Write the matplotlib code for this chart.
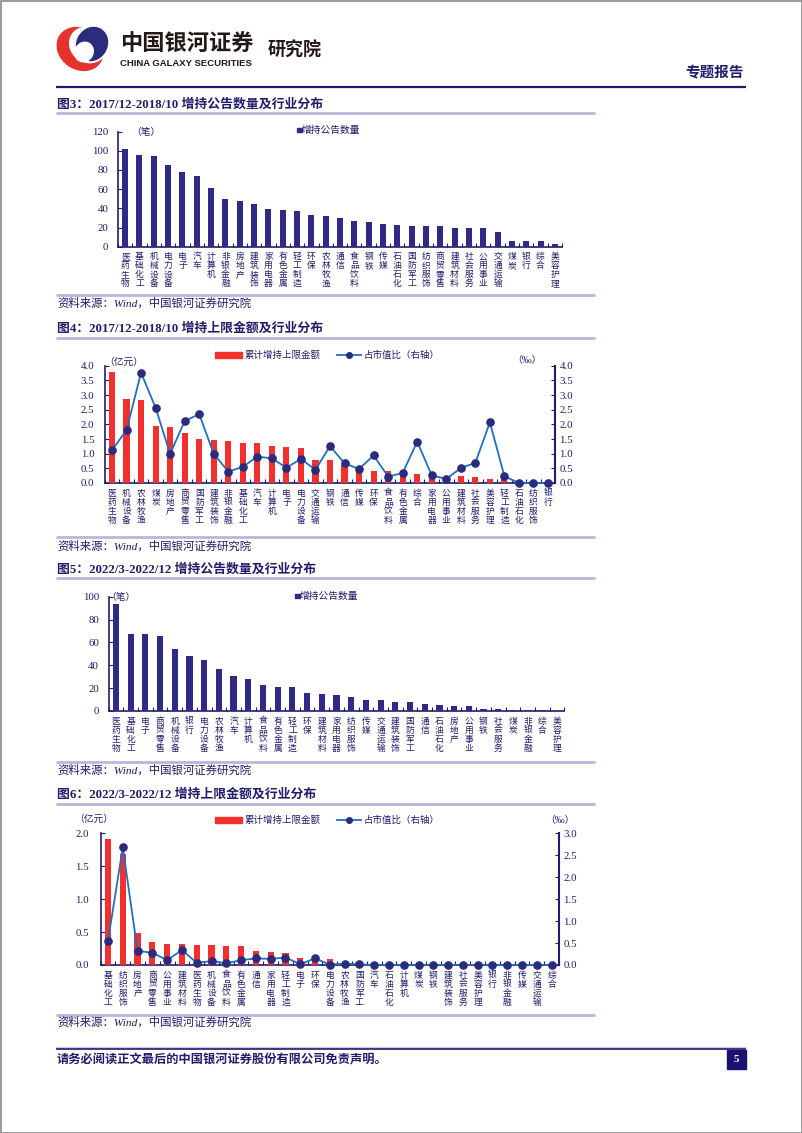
import matplotlib
matplotlib.use('Agg')
import matplotlib.pyplot as plt
from matplotlib.patches import Rectangle, Ellipse
import numpy as np

# ---------------- data ----------------
fig3_categories = ['医药生物', '基础化工', '机械设备', '电力设备', '电子', '汽车', '计算机', '非银金融',
                   '房地产', '建筑装饰', '家用电器', '有色金属', '轻工制造', '环保', '农林牧渔', '通信',
                   '食品饮料', '钢铁', '传媒', '石油石化', '国防军工', '纺织服饰', '商贸零售', '建筑材料',
                   '社会服务', '公用事业', '交通运输', '煤炭', '银行', '综合', '美容护理']
fig3_counts = [102, 96, 94, 85, 78, 74, 61, 50, 48, 44, 39, 38, 37, 33, 32, 30, 27, 26, 24, 23,
               22, 22, 22, 20, 19, 19, 15, 6, 6, 6, 3]
fig3_yticks = [0, 20, 40, 60, 80, 100, 120]

fig4_categories = ['医药生物', '机械设备', '农林牧渔', '煤炭', '房地产', '商贸零售', '国防军工', '建筑装饰',
                   '非银金融', '基础化工', '汽车', '计算机', '电子', '电力设备', '交通运输', '钢铁', '通信',
                   '传媒', '环保', '食品饮料', '有色金属', '综合', '家用电器', '公用事业', '建筑材料',
                   '社会服务', '美容护理', '轻工制造', '石油石化', '纺织服饰', '银行']
fig4_amount = [3.78, 2.87, 2.84, 1.94, 1.90, 1.69, 1.50, 1.47, 1.44, 1.37, 1.36, 1.26, 1.24, 1.20,
               0.78, 0.78, 0.62, 0.50, 0.42, 0.41, 0.34, 0.30, 0.26, 0.20, 0.25, 0.19, 0.15, 0.20,
               0.0, 0.0, 0.0]
fig4_ratio = [1.12, 1.80, 3.76, 2.57, 0.99, 2.11, 2.35, 1.00, 0.39, 0.55, 0.90, 0.84, 0.52, 0.82,
              0.45, 1.26, 0.67, 0.48, 0.94, 0.22, 0.34, 1.41, 0.26, 0.14, 0.51, 0.69, 2.07, 0.23,
              0.0, 0.0, 0.0]
fig4_yticks = [0.0, 0.5, 1.0, 1.5, 2.0, 2.5, 3.0, 3.5, 4.0]

fig5_categories = ['医药生物', '基础化工', '电子', '商贸零售', '机械设备', '银行', '电力设备', '农林牧渔',
                   '汽车', '计算机', '食品饮料', '有色金属', '轻工制造', '环保', '建筑材料', '家用电器',
                   '纺织服饰', '传媒', '交通运输', '建筑装饰', '国防军工', '通信', '石油石化', '房地产',
                   '公用事业', '钢铁', '社会服务', '煤炭', '非银金融', '综合', '美容护理']
fig5_counts = [94, 67, 67, 66, 54, 48, 45, 37, 31, 28, 23, 21, 21, 16, 15, 14, 12, 10, 10, 8, 8,
               6, 5, 4, 4, 2, 2, 1, 1, 1, 0]
fig5_yticks = [0, 20, 40, 60, 80, 100]

fig6_categories = ['基础化工', '纺织服饰', '房地产', '商贸零售', '公用事业', '建筑材料', '医药生物', '机械设备',
                   '食品饮料', '有色金属', '通信', '家用电器', '轻工制造', '电子', '环保', '电力设备',
                   '农林牧渔', '国防军工', '汽车', '石油石化', '计算机', '煤炭', '钢铁', '建筑装饰',
                   '社会服务', '美容护理', '银行', '非银金融', '传媒', '交通运输', '综合']
fig6_amount = [1.91, 1.68, 0.48, 0.355, 0.32, 0.32, 0.31, 0.30, 0.29, 0.29, 0.22, 0.20, 0.18, 0.10,
               0.10, 0.09, 0.02, 0.01, 0.005, 0.005, 0.005, 0.0, 0.0, 0.0, 0.0, 0.0, 0.0, 0.0, 0.0,
               0.0, 0.0]
fig6_ratio = [0.55, 2.68, 0.32, 0.28, 0.11, 0.34, 0.05, 0.09, 0.04, 0.11, 0.15, 0.14, 0.17, 0.02,
              0.15, 0.01, 0.03, 0.015, 0.0, 0.0, 0.0, 0.0, 0.0, 0.0, 0.0, 0.0, 0.0, 0.0, 0.0, 0.0, 0.0]
fig6_yticks_left = [0.0, 0.5, 1.0, 1.5, 2.0]
fig6_yticks_right = [0.0, 0.5, 1.0, 1.5, 2.0, 2.5, 3.0]

# ---------------- style ----------------
W, H = 802, 1133
NAVY = '#221C6C'
BAR = '#2E2A86'
RED = '#F2302E'
LINE = '#2070BE'
MARK = '#2B2A7C'
SEP = '#BAB6DA'
SERIF = ['Liberation Serif', 'Noto Sans CJK SC']
CJK = ['Noto Sans CJK SC', 'DejaVu Sans']

fig = plt.figure(figsize=(W / 100, H / 100), dpi=100)

bg = fig.add_axes([0, 0, 1, 1])
bg.set_xlim(0, W)
bg.set_ylim(H, 0)
bg.axis('off')
bg.set_zorder(-5)


def add_axes(x0, y0, x1, y1):
    return fig.add_axes([x0 / W, 1 - y1 / H, (x1 - x0) / W, (y1 - y0) / H])


def hline(x0, x1, y, color, lw):
    bg.plot([x0, x1], [y, y], color=color, lw=lw, solid_capstyle='butt')


def txt(x, y, s, **kw):
    kw.setdefault('va', 'center')
    bg.text(x, y, s, **kw)


# page border
bg.add_patch(Rectangle((0.5, 0.5), W - 1, H - 1, fill=False, ec='#8a8a8a', lw=1.2))

# header logo (approximation)
bg.add_patch(Ellipse((80, 49), 48, 40, angle=35, color='#E5322D'))
bg.add_patch(Ellipse((88, 45), 38, 34, angle=35, color='white'))
bg.add_patch(Ellipse((92, 44), 30, 34, angle=30, color='#2A2C7C'))
bg.add_patch(Ellipse((84, 52), 18, 20, angle=30, color='white'))
txt(120, 44, '中国银河证券', family=CJK, fontsize=16, fontweight='bold', color='#231815')
txt(120, 63.5, 'CHINA GALAXY SECURITIES', family=['Liberation Sans'], fontsize=6.8,
    fontweight='bold', color='#231815')
txt(268, 50, '研究院', family=CJK, fontsize=13, fontweight='bold', color='#231815')
txt(744, 72, '专题报告', family=CJK, fontsize=10.5, fontweight='bold', color=NAVY, ha='right')
hline(56, 746, 86.5, NAVY, 1.6)

# section decorations
sections = [
    (104, 113, 295, 303, '图3：2017/12-2018/10 增持公告数量及行业分布'),
    (329, 338, 537, 546, '图4：2017/12-2018/10 增持上限金额及行业分布'),
    (569, 578, 762, 770, '图5：2022/3-2022/12 增持公告数量及行业分布'),
    (795, 804, 1015, 1022, '图6：2022/3-2022/12 增持上限金额及行业分布'),
]
for ty, uy, by, sy, title in sections:
    txt(57, ty, title, family=SERIF, fontsize=9.3, fontweight='bold', color=NAVY)
    hline(56, 595, uy, SEP, 2.0)
    hline(56, 595, by, SEP, 2.0)
    txt(57, sy, '资料来源：Wind，中国银河证券研究院', family=SERIF, fontsize=8.2,
        fontstyle='italic', color=NAVY)

# footer
hline(56, 746, 1047.5, '#C8C4E6', 1.5)
hline(56, 746, 1049, NAVY, 1.2)
txt(57, 1060, '请务必阅读正文最后的中国银河证券股份有限公司免责声明。', family=CJK, fontsize=8.8,
    fontweight='bold', color=NAVY)
bg.add_patch(Rectangle((727, 1050), 19, 19, color='#1A1270'))
txt(736.5, 1059.5, '5', family=SERIF, fontsize=8, fontweight='bold', color='white', ha='center')


def style(ax, cats, ylim, yticks, fmt, pad):
    n = len(cats)
    ax.set_xlim(-0.5, n - 0.5)
    ax.set_ylim(*ylim)
    ax.set_yticks(yticks)
    ax.set_yticklabels([fmt.format(v) for v in yticks], family=SERIF, fontsize=7.8, color=NAVY)
    ax.set_xticks(range(n))
    ax.set_xticklabels(['\n'.join(c) for c in cats], family=CJK, fontsize=6.3, color=NAVY,
                       linespacing=1.0, va='top')
    ax.set_xticks(np.arange(n + 1) - 0.5, minor=True)
    ax.tick_params(axis='x', which='major', length=0, pad=4)
    ax.tick_params(axis='x', which='minor', length=3, direction='in', color=NAVY, width=0.8)
    ax.tick_params(axis='y', length=3, direction='in', color=NAVY, width=0.8, pad=pad)
    for s in ['top', 'right']:
        ax.spines[s].set_visible(False)
    for s in ['left', 'bottom']:
        ax.spines[s].set_color(NAVY)
        ax.spines[s].set_linewidth(1.2)
    ax.patch.set_alpha(0)


def count_chart(box, cats, vals, yticks, legend_xy, unit_xy, pad):
    ax = add_axes(*box)
    x = np.arange(len(cats))
    ax.bar(x, vals, width=0.42, color=BAR, zorder=3)
    style(ax, cats, (0, yticks[-1]), yticks, '{:d}', pad)
    lx, ly = legend_xy
    bg.add_patch(Rectangle((lx, ly - 2.5), 4.5, 4.5, color=BAR))
    txt(lx + 5, ly, '增持公告数量', family=CJK, fontsize=7, color=NAVY)
    txt(unit_xy[0], unit_xy[1], '（笔）', family=CJK, fontsize=7, color=NAVY)
    return ax


def amount_chart(box, cats, amt, ratio, lticks, rticks, legend_y, unit_l, unit_r, pad):
    ax = add_axes(*box)
    x = np.arange(len(cats))
    ax.bar(x, amt, width=0.42, color=RED, zorder=3)
    style(ax, cats, (0, lticks[-1]), lticks, '{:.1f}', pad)
    ax2 = ax.twinx()
    ax2.plot(x, ratio, color=LINE, lw=1.3, marker='o', ms=5.2, mfc=MARK, mec=MARK,
             clip_on=False, zorder=4)
    ax2.set_ylim(0, rticks[-1])
    ax2.set_yticks(rticks)
    ax2.set_yticklabels(['{:.1f}'.format(v) for v in rticks], family=SERIF, fontsize=7.8, color=NAVY)
    ax2.tick_params(axis='y', length=3, direction='in', color=NAVY, width=0.8, pad=3)
    for s in ['top', 'left', 'bottom']:
        ax2.spines[s].set_visible(False)
    ax2.spines['right'].set_color(NAVY)
    ax2.spines['right'].set_linewidth(1.5)
    # legend
    bg.add_patch(Rectangle((215, legend_y - 3), 27, 6, color=RED))
    txt(245, legend_y, '累计增持上限金额', family=CJK, fontsize=6.8, color=NAVY)
    bg.plot([337, 361], [legend_y, legend_y], color=LINE, lw=1.3)
    bg.plot([349], [legend_y], marker='o', ms=4, color=MARK)
    txt(364, legend_y, '占市值比（右轴）', family=CJK, fontsize=6.8, color=NAVY)
    txt(unit_l[0], unit_l[1], '（亿元）', family=CJK, fontsize=7, color=NAVY)
    txt(unit_r[0], unit_r[1], '（‰）', family=SERIF, fontsize=7, color=NAVY)
    return ax, ax2


count_chart((118, 131.5, 562, 246.7), fig3_categories, fig3_counts, fig3_yticks,
            (297, 130), (131, 131.5), 7)
amount_chart((104.7, 365.7, 555.3, 483), fig4_categories, fig4_amount, fig4_ratio,
             fig4_yticks, fig4_yticks, 355, (104, 362), (512, 360), 7.5)
count_chart((108.6, 596.7, 564.4, 711), fig5_categories, fig5_counts, fig5_yticks,
            (295, 596), (106, 597), 7)
amount_chart((100.6, 833.3, 559, 965), fig6_categories, fig6_amount, fig6_ratio,
             fig6_yticks_left, fig6_yticks_right, 820, (74, 819), (545, 820), 8.5)

fig.savefig('out.png', dpi=100)
